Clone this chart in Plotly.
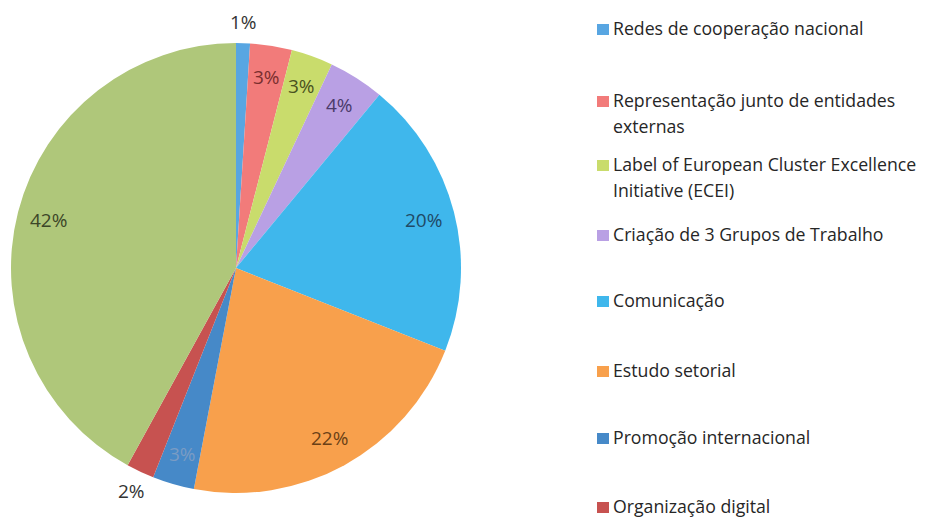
import math
import plotly.graph_objects as go

# the page has an 8px body margin, so the figure is drawn at (8, 8)
OFF = 8
W, H = 926 - OFF, 519 - OFF

labels = [
    "Redes de cooperação nacional",
    "Representação junto de entidades externas",
    "Label of European Cluster Excellence Initiative (ECEI)",
    "Criação de 3 Grupos de Trabalho",
    "Comunicação",
    "Estudo setorial",
    "Promoção internacional",
    "Organização digital",
    "Outros",
]
values = [1, 3, 3, 4, 20, 22, 3, 2, 42]
colors = ["#58a6e2", "#f27b7a", "#c9dc6c", "#b9a0e4", "#3fb7ec",
          "#f8a04c", "#4689c8", "#c75250", "#afc77a"]
text_colors = ["#333333", "#7a2e2e", "#4a5220", "#4a3a6a", "#1f4a66",
               "#6a4016", "#7a9cc4", "#333333", "#3c4628"]
outside = [True, False, False, False, False, False, False, True, False]

# legend lines (wrapped as in reference)
legend_lines = [
    ["Redes de cooperação nacional"],
    ["Representação junto de entidades", "externas"],
    ["Label of European Cluster Excellence", "Initiative (ECEI)"],
    ["Criação de 3 Grupos de Trabalho"],
    ["Comunicação"],
    ["Estudo setorial"],
    ["Promoção internacional"],
    ["Organização digital"],
]

FONT = "Open Sans, Noto Sans, sans-serif"


def px_x(sx):
    return (sx - OFF) / W


def px_y(sy):
    return 1 - (sy - OFF) / H


# pie geometry in screen pixels
CX, CY, R = 236, 268, 225

fig = go.Figure(go.Pie(
    labels=labels,
    values=values,
    sort=False,
    direction="clockwise",
    rotation=0,
    marker=dict(colors=colors, line=dict(width=0)),
    textinfo="none",
    showlegend=False,
    domain=dict(x=[px_x(CX - R), px_x(CX + R)],
                y=[px_y(CY + R), px_y(CY - R)]),
))

annotations = []
total = sum(values)
cum = 0
for v, oc, tc in zip(values, outside, text_colors):
    mid = (cum + v / 2) / total * 2 * math.pi
    cum += v
    rr = R * (1.095 if oc else 0.86)
    sx = CX + rr * math.sin(mid)
    sy = CY - rr * math.cos(mid)
    annotations.append(dict(
        x=px_x(sx), y=px_y(sy), xref="paper", yref="paper",
        text=f"{round(v / total * 100)}%", showarrow=False,
        xanchor="center", yanchor="middle",
        font=dict(family=FONT, size=19, color=tc),
    ))

# manual legend
first_line_y = [28, 100, 164, 234, 300, 370, 437, 506]
line_gap = 26
shapes = []
for i, lines in enumerate(legend_lines):
    y0 = first_line_y[i]
    shapes.append(dict(
        type="rect", xref="paper", yref="paper",
        x0=px_x(597), x1=px_x(609), y0=px_y(y0 + 7), y1=px_y(y0 - 4),
        fillcolor=colors[i], line=dict(width=0),
    ))
    for j, t in enumerate(lines):
        annotations.append(dict(
            x=px_x(611), y=px_y(y0 + j * line_gap), xref="paper", yref="paper",
            text=t, showarrow=False, xanchor="left", yanchor="middle",
            font=dict(family=FONT, size=17.7, color="#262626"),
        ))

fig.update_layout(
    width=W, height=H,
    margin=dict(l=0, r=0, t=0, b=0),
    paper_bgcolor="white", plot_bgcolor="white",
    annotations=annotations, shapes=shapes,
)

fig.write_html("out.html")
